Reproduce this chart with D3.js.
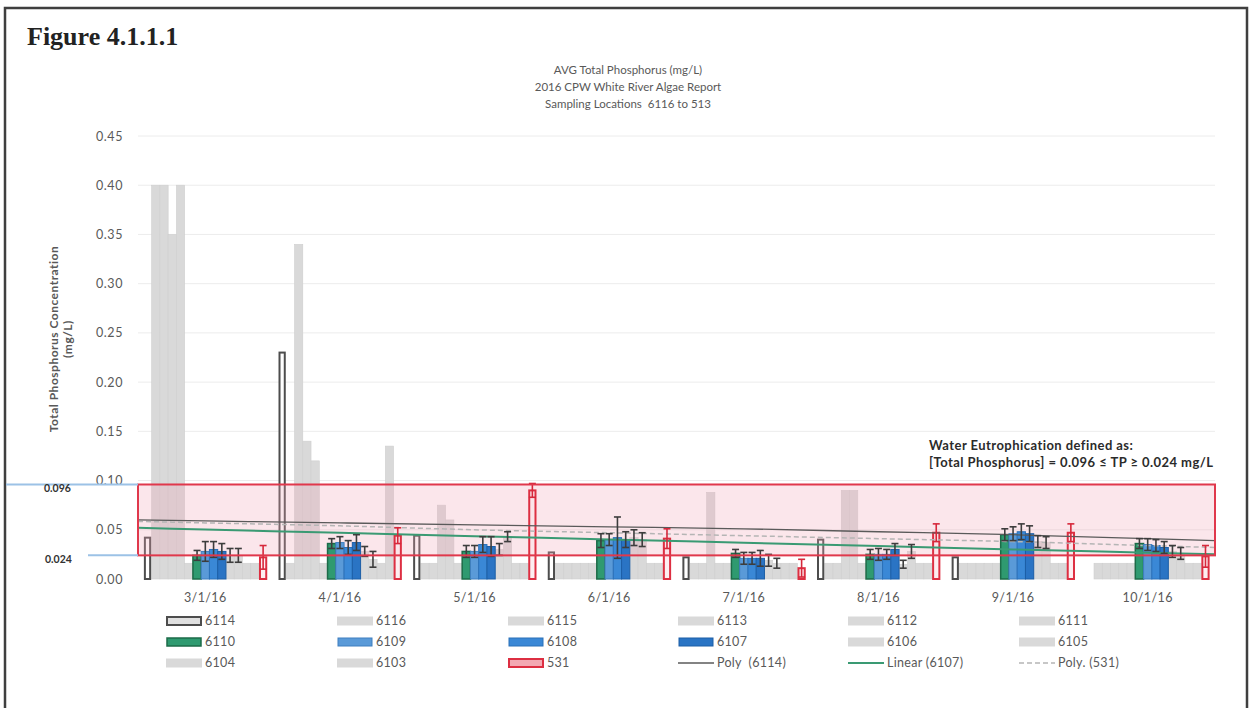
<!DOCTYPE html>
<html>
<head>
<meta charset="utf-8">
<script src="https://cdn.jsdelivr.net/npm/d3@7"></script>
<style>
  body { margin: 0; background: #fff; }
  svg { display: block; }
  text { font-family: Lato, "Open Sans", sans-serif; }
</style>
</head>
<body>
<svg id="chart" width="1254" height="708"></svg>
<script>
// Sampling dates (monthly averages)
const dates = ["3/1/16", "4/1/16", "5/1/16", "6/1/16", "7/1/16", "8/1/16", "9/1/16", "10/1/16"];

// Sampling locations, in bar order within each date
const locations = ["6114", "6116", "6115", "6113", "6112", "6111", "6110", "6109", "6108", "6107", "6106", "6105", "6104", "6103", "531"];

// Average total phosphorus (mg/L) per location (null = not sampled)
const tp6114 = [0.042, 0.230, 0.044, 0.027, 0.022, 0.040, 0.022, null];
const tp6116 = [0.400, 0.016, 0.016, 0.016, 0.016, 0.016, 0.016, 0.016];
const tp6115 = [0.400, 0.340, 0.016, 0.016, 0.016, 0.016, 0.016, 0.016];
const tp6113 = [0.350, 0.140, 0.075, 0.016, 0.088, 0.090, 0.016, 0.016];
const tp6112 = [0.400, 0.120, 0.060, 0.016, 0.016, 0.090, 0.016, 0.016];
const tp6111 = [0.016, 0.016, 0.016, 0.016, 0.016, 0.016, 0.016, 0.016];
const tp6110 = [0.024, 0.036, 0.028, 0.039, 0.026, 0.025, 0.045, 0.036];
const tp6109 = [0.028, 0.037, 0.028, 0.040, 0.021, 0.025, 0.046, 0.035];
const tp6108 = [0.030, 0.032, 0.035, 0.042, 0.021, 0.025, 0.048, 0.034];
const tp6107 = [0.028, 0.037, 0.033, 0.040, 0.021, 0.030, 0.046, 0.032];
const tp6106 = [0.024, 0.028, 0.030, 0.042, 0.019, 0.015, 0.038, 0.028];
const tp6105 = [0.024, 0.020, 0.043, 0.040, 0.016, 0.028, 0.037, 0.026];
const tp6104 = [0.016, 0.016, 0.016, 0.016, 0.016, 0.016, 0.016, 0.016];
const tp6103 = [0.016, 0.135, 0.016, 0.016, 0.016, 0.016, 0.016, 0.016];
const tp531  = [0.022, 0.044, 0.090, 0.041, 0.011, 0.047, 0.047, 0.023];

// Error-bar half widths (mg/L)
const err6110 = [0.005, 0.005, 0.006, 0.007, 0.004, 0.005, 0.006, 0.005];
const err6109 = [0.010, 0.006, 0.006, 0.006, 0.006, 0.006, 0.007, 0.006];
const err6108 = [0.008, 0.007, 0.008, 0.021, 0.006, 0.005, 0.008, 0.006];
const err6107 = [0.008, 0.008, 0.010, 0.008, 0.008, 0.006, 0.008, 0.006];
const err6106 = [0.007, 0.005, 0.006, 0.008, 0.006, 0.004, 0.006, 0.006];
const err6105 = [0.007, 0.008, 0.005, 0.007, 0.005, 0.007, 0.006, 0.006];
const err531  = [0.012, 0.008, 0.007, 0.010, 0.009, 0.009, 0.009, 0.011];

// Trend lines evaluated at each date
const trendPoly6114   = [0.059, 0.057, 0.055, 0.053, 0.051, 0.048, 0.045, 0.041];
const trendLinear6107 = [0.0503, 0.0469, 0.0435, 0.0402, 0.0368, 0.0334, 0.0300, 0.0267];
const trendPoly531    = [0.057, 0.054, 0.050, 0.047, 0.044, 0.041, 0.038, 0.034];

// Eutrophication range (mg/L)
const eutroLow = 0.024;
const eutroHigh = 0.096;

const yTicks = [0, 0.05, 0.10, 0.15, 0.20, 0.25, 0.30, 0.35, 0.40, 0.45];

// ---- lookup tables built from the arrays above ----
const values = {
  "6114": tp6114, "6116": tp6116, "6115": tp6115, "6113": tp6113, "6112": tp6112,
  "6111": tp6111, "6110": tp6110, "6109": tp6109, "6108": tp6108, "6107": tp6107,
  "6106": tp6106, "6105": tp6105, "6104": tp6104, "6103": tp6103, "531": tp531
};
const errors = {
  "6110": err6110, "6109": err6109, "6108": err6108, "6107": err6107,
  "6106": err6106, "6105": err6105, "531": err531
};

const GRAY = "#d9d9d9";
const style = {
  "6114": { fill: "#ffffff", stroke: "#4d4d4d", sw: 2 },
  "6110": { fill: "#2f9a70", stroke: "#1d6b48", sw: 1.5 },
  "6109": { fill: "#5a9ad8", stroke: "#3f7fbf", sw: 1 },
  "6108": { fill: "#3a88d6", stroke: "#2a70b8", sw: 1 },
  "6107": { fill: "#2a74c4", stroke: "#1c5ea6", sw: 1 },
  "531":  { fill: "#fbe3e7", stroke: "#dd2f42", sw: 2 }
};
const grayLocs = ["6116", "6115", "6113", "6112", "6111", "6106", "6105", "6104", "6103"];
const colorLocs = ["6110", "6109", "6108", "6107"];

const svg = d3.select("#chart");

// Frame
svg.append("path")
  .attr("d", "M5,716 V8 H1247 V716")
  .attr("fill", "none").attr("stroke", "#3f3f3f").attr("stroke-width", 2.5);

svg.append("text").attr("x", 27).attr("y", 45)
  .style("font-family", "'Liberation Serif', 'DejaVu Serif', serif")
  .style("font-weight", "bold").style("font-size", "26px").attr("fill", "#222")
  .text("Figure 4.1.1.1");

// Scales
const plotLeft = 138, plotRight = 1215, plotBottom = 579, plotTop = 136;
const x0 = d3.scaleBand().domain(dates).range([plotLeft, plotRight]).paddingInner(0.08).paddingOuter(0.04);
const x1 = d3.scaleBand().domain(locations).range([0, x0.bandwidth()]);
const y = d3.scaleLinear().domain([0, 0.45]).range([plotBottom, plotTop]);

// Title
const titleLines = ["AVG Total Phosphorus (mg/L)", "2016 CPW White River Algae Report", "Sampling Locations  6116 to 513"];
svg.append("g").selectAll("text").data(titleLines).join("text")
  .attr("x", 628).attr("y", (d, i) => 74 + i * 17)
  .attr("text-anchor", "middle").attr("fill", "#595959")
  .style("font-size", "11.5px").style("white-space", "pre").text(d => d);

// Gridlines
svg.append("g").selectAll("line").data(yTicks.slice(1)).join("line")
  .attr("x1", plotLeft).attr("x2", plotRight)
  .attr("y1", d => y(d)).attr("y2", d => y(d))
  .attr("stroke", "#ececec").attr("stroke-width", 1);

// Y axis (labels only)
const yAxis = d3.axisLeft(y).tickValues(yTicks).tickFormat(d3.format(".2f")).tickSize(0).tickPadding(10);
const yg = svg.append("g").attr("transform", `translate(${plotLeft - 5},0)`).call(yAxis);
yg.select(".domain").remove();
yg.selectAll("text").style("font-size", "12.5px").style("letter-spacing", "0.6px")
  .attr("fill", "#595959").style("font-family", "Lato, sans-serif");

svg.append("text")
  .attr("transform", `translate(58,339) rotate(-90)`)
  .attr("text-anchor", "middle").attr("fill", "#595959")
  .style("font-size", "12px").style("font-weight", "bold").style("letter-spacing", "0.5px")
  .text("Total Phosphorus Concentration");
svg.append("text")
  .attr("transform", `translate(72,339) rotate(-90)`)
  .attr("text-anchor", "middle").attr("fill", "#595959")
  .style("font-size", "12px").style("font-weight", "bold").style("letter-spacing", "0.5px")
  .text("(mg/L)");

// X axis labels
const xAxis = d3.axisBottom(x0).tickSize(0).tickPadding(14);
const xg = svg.append("g").attr("transform", `translate(0,${plotBottom})`).call(xAxis);
xg.select(".domain").remove();
xg.selectAll("text").style("font-size", "12.5px").style("letter-spacing", "0.4px")
  .attr("fill", "#595959").style("font-family", "Lato, sans-serif");

// Flatten bar records, skipping unsampled dates
function records(locs) {
  const out = [];
  dates.forEach((d, i) => locs.forEach(loc => {
    const v = values[loc][i];
    if (v == null) return;
    out.push({ date: d, loc, v, e: errors[loc] ? errors[loc][i] : null });
  }));
  return out;
}

const plot = svg.append("g");

// Gray locations
plot.append("g").selectAll("rect").data(records(grayLocs)).join("rect")
  .attr("x", d => x0(d.date) + x1(d.loc))
  .attr("width", x1.bandwidth())
  .attr("y", d => y(d.v))
  .attr("height", d => plotBottom - y(d.v))
  .attr("fill", GRAY).attr("stroke", "#cfcfcf").attr("stroke-width", 0.6);

// Location 6114 (outlined)
plot.append("g").selectAll("rect").data(records(["6114"])).join("rect")
  .attr("x", d => x0(d.date) + x1(d.loc) + 1.5)
  .attr("width", x1.bandwidth() - 3)
  .attr("y", d => y(d.v))
  .attr("height", d => plotBottom - y(d.v))
  .attr("fill", style["6114"].fill).attr("stroke", style["6114"].stroke)
  .attr("stroke-width", style["6114"].sw);

// Eutrophication band fill
plot.append("rect")
  .attr("x", plotLeft).attr("width", plotRight - plotLeft)
  .attr("y", y(eutroHigh)).attr("height", y(eutroLow) - y(eutroHigh))
  .attr("fill", "#f2a7b7").attr("fill-opacity", 0.28);

// Coloured locations
plot.append("g").selectAll("rect").data(records(colorLocs)).join("rect")
  .attr("x", d => x0(d.date) + x1(d.loc))
  .attr("width", x1.bandwidth())
  .attr("y", d => y(d.v))
  .attr("height", d => plotBottom - y(d.v))
  .attr("fill", d => style[d.loc].fill)
  .attr("stroke", d => style[d.loc].stroke)
  .attr("stroke-width", d => style[d.loc].sw);

// Location 531 (red outline)
plot.append("g").selectAll("rect").data(records(["531"])).join("rect")
  .attr("x", d => x0(d.date) + x1(d.loc) + 1)
  .attr("width", x1.bandwidth() - 2)
  .attr("y", d => y(d.v))
  .attr("height", d => plotBottom - y(d.v))
  .attr("fill", style["531"].fill).attr("fill-opacity", 0.6)
  .attr("stroke", style["531"].stroke).attr("stroke-width", style["531"].sw);

// Trend lines, extended to the plot edges
function trendPoints(vals) {
  const pts = dates.map((d, i) => [x0(d) + x0.bandwidth() / 2, vals[i]]);
  const n = pts.length;
  const sL = (pts[1][1] - pts[0][1]) / (pts[1][0] - pts[0][0]);
  const sR = (pts[n - 1][1] - pts[n - 2][1]) / (pts[n - 1][0] - pts[n - 2][0]);
  return [[plotLeft, pts[0][1] + sL * (plotLeft - pts[0][0])], ...pts,
          [plotRight, pts[n - 1][1] + sR * (plotRight - pts[n - 1][0])]];
}
const trendLine = d3.line().x(p => p[0]).y(p => y(p[1])).curve(d3.curveMonotoneX);
plot.append("path").attr("d", trendLine(trendPoints(trendPoly531)))
  .attr("fill", "none").attr("stroke", "#b5b5b5").attr("stroke-width", 1.5).attr("stroke-dasharray", "5,3");
plot.append("path").attr("d", trendLine(trendPoints(trendLinear6107)))
  .attr("fill", "none").attr("stroke", "#3a9a73").attr("stroke-width", 2);
plot.append("path").attr("d", trendLine(trendPoints(trendPoly6114)))
  .attr("fill", "none").attr("stroke", "#5a5a5a").attr("stroke-width", 1.3);

// Error bars
const errRecs = records(Object.keys(errors));
const eb = plot.append("g").selectAll("g").data(errRecs).join("g")
  .attr("transform", d => `translate(${x0(d.date) + x1(d.loc) + x1.bandwidth() / 2},0)`)
  .attr("stroke", d => d.loc === "531" ? "#d6283b" : "#3d3d3d")
  .attr("stroke-width", 1.6);
eb.append("line").attr("y1", d => y(d.v - d.e)).attr("y2", d => y(d.v + d.e));
eb.append("line").attr("x1", -3.5).attr("x2", 3.5).attr("y1", d => y(d.v + d.e)).attr("y2", d => y(d.v + d.e));
eb.append("line").attr("x1", -3.5).attr("x2", 3.5).attr("y1", d => y(d.v - d.e)).attr("y2", d => y(d.v - d.e));

// Eutrophication band outline
plot.append("rect")
  .attr("x", plotLeft).attr("width", plotRight - plotLeft)
  .attr("y", y(eutroHigh)).attr("height", y(eutroLow) - y(eutroHigh))
  .attr("fill", "none").attr("stroke", "#e0384c").attr("stroke-width", 2);

// Threshold leaders and labels at the left
svg.append("line").attr("x1", 6).attr("x2", plotLeft).attr("y1", y(eutroHigh)).attr("y2", y(eutroHigh))
  .attr("stroke", "#9cc2e6").attr("stroke-width", 2);
svg.append("line").attr("x1", 88).attr("x2", plotLeft).attr("y1", y(eutroLow)).attr("y2", y(eutroLow))
  .attr("stroke", "#9cc2e6").attr("stroke-width", 2);
svg.append("text").attr("x", 44).attr("y", y(eutroHigh) + 8)
  .style("font-size", "10.5px").style("font-weight", "bold").attr("fill", "#333")
  .text(d3.format(".3f")(eutroHigh));
svg.append("text").attr("x", 45).attr("y", y(eutroLow) + 8)
  .style("font-size", "10.5px").style("font-weight", "bold").attr("fill", "#333")
  .text(d3.format(".3f")(eutroLow));

// Eutrophication note
const note = svg.append("text").attr("fill", "#2b2b2b")
  .style("font-size", "13px").style("font-weight", "bold").style("letter-spacing", "0.45px");
note.append("tspan").attr("x", 929).attr("y", 450).text("Water Eutrophication defined as:");
note.append("tspan").attr("x", 929).attr("y", 467)
  .text(`[Total Phosphorus] = ${d3.format(".3f")(eutroHigh)} ≤ TP ≥ ${d3.format(".3f")(eutroLow)} mg/L`);

// Legend
const legendItems = [
  { label: "6114", kind: "box", loc: "6114" }, { label: "6116", kind: "gray" }, { label: "6115", kind: "gray" },
  { label: "6113", kind: "gray" }, { label: "6112", kind: "gray" }, { label: "6111", kind: "gray" },
  { label: "6110", kind: "box", loc: "6110" }, { label: "6109", kind: "box", loc: "6109" }, { label: "6108", kind: "box", loc: "6108" },
  { label: "6107", kind: "box", loc: "6107" }, { label: "6106", kind: "gray" }, { label: "6105", kind: "gray" },
  { label: "6104", kind: "gray" }, { label: "6103", kind: "gray" }, { label: "531", kind: "box", loc: "531" },
  { label: "Poly  (6114)", kind: "line", stroke: "#5a5a5a", w: 1.5 },
  { label: "Linear (6107)", kind: "line", stroke: "#3a9a73", w: 2.2 },
  { label: "Poly. (531)", kind: "line", stroke: "#b5b5b5", w: 1.5, dash: "5,3" }
];
const colX = [166, 337, 508, 678, 848, 1019];
const rowY = [621, 642, 663];
const lg = svg.append("g").selectAll("g").data(legendItems).join("g")
  .attr("transform", (d, i) => `translate(${colX[i % 6]},${rowY[Math.floor(i / 6)]})`);
lg.filter(d => d.kind === "gray").append("rect")
  .attr("x", 0).attr("y", -4.5).attr("width", 36).attr("height", 9).attr("fill", GRAY);
lg.filter(d => d.kind === "box").append("rect")
  .attr("x", 1).attr("y", -4).attr("width", 34).attr("height", 8)
  .attr("fill", d => d.loc === "6114" ? "#e0e0e0" : d.loc === "531" ? "#f3a9b3" : style[d.loc].fill)
  .attr("stroke", d => style[d.loc].stroke).attr("stroke-width", d => style[d.loc].sw);
lg.filter(d => d.kind === "line").append("line")
  .attr("x1", 0).attr("x2", 36).attr("y1", 0).attr("y2", 0)
  .attr("stroke", d => d.stroke).attr("stroke-width", d => d.w)
  .attr("stroke-dasharray", d => d.dash || null);
lg.append("text").attr("x", 39).attr("y", 0).attr("dy", "0.35em")
  .attr("fill", "#595959").style("font-size", "12.5px").style("letter-spacing", "0.3px")
  .style("white-space", "pre").text(d => d.label);
</script>
</body>
</html>
